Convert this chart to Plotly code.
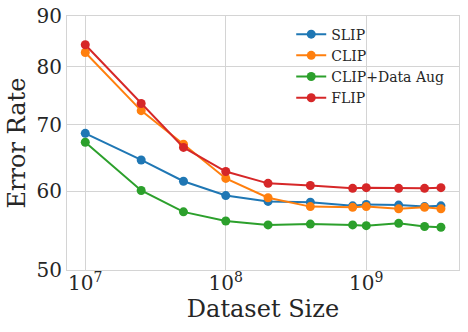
import plotly.graph_objects as go

# Dataset sizes (x) and error rates per method
dataset_size = [1e7, 2.5e7, 5e7, 1e8, 2e8, 4e8, 8e8, 1e9, 1.7e9, 2.6e9, 3.4e9]
slip = [68.6, 64.5, 61.4, 59.4, 58.6, 58.5, 58.0, 58.2, 58.1, 57.9, 58.0]
clip = [82.7, 72.3, 66.9, 61.8, 59.1, 57.9, 57.8, 57.9, 57.6, 57.8, 57.6]
clip_aug = [67.2, 60.1, 57.2, 56.0, 55.5, 55.6, 55.5, 55.4, 55.7, 55.3, 55.2]
flip = [84.2, 73.5, 66.4, 62.8, 61.1, 60.8, 60.4, 60.5, 60.4, 60.4, 60.5]

series_names = ["SLIP", "CLIP", "CLIP+Data Aug", "FLIP"]
series_values = [slip, clip, clip_aug, flip]
colors = ["#1f77b4", "#ff7f0e", "#2ca02c", "#d62728"]

y_ticks = [50, 60, 70, 80, 90]
x_ticks = [1e7, 1e8, 1e9]
x_tick_text = ["10<sup>7</sup>", "10<sup>8</sup>", "10<sup>9</sup>"]

FONT = "DejaVu Serif"
TEXT = "#262626"
GRID = "#d4d4d4"

fig = go.Figure()

for name, vals, color in zip(series_names, series_values, colors):
    fig.add_trace(go.Scatter(
        x=dataset_size,
        y=vals,
        mode="lines+markers",
        name=name,
        line=dict(width=2, color=color),
        marker=dict(size=9, color=color)
    ))

fig.update_layout(
    width=468,
    height=332,
    margin=dict(l=67, r=9, t=16, b=62),
    plot_bgcolor="white",
    paper_bgcolor="white",
    font=dict(family=FONT, color=TEXT, size=20),
    showlegend=True,
    legend=dict(
        x=0.572, y=0.99, xanchor="left", yanchor="top",
        bgcolor="rgba(0,0,0,0)",
        font=dict(size=14, family=FONT, color=TEXT),
        itemwidth=30,
        tracegroupgap=0,
    ),
)

fig.update_xaxes(
    type="log",
    range=[6.87, 9.66],
    tickvals=x_ticks,
    ticktext=x_tick_text,
    showgrid=True, gridcolor=GRID, gridwidth=1,
    showline=True, linecolor=GRID, linewidth=1, mirror=True,
    ticks="", zeroline=False, automargin=False,
    tickfont=dict(size=20),
    ticklabelstandoff=-5,
    title=dict(text="Dataset Size", font=dict(size=24), standoff=4),
)

fig.update_yaxes(
    type="log",
    range=[1.69897, 1.95424],
    tickvals=y_ticks,
    ticktext=[str(v) for v in y_ticks],
    showgrid=True, gridcolor=GRID, gridwidth=1,
    showline=True, linecolor=GRID, linewidth=1, mirror=True,
    ticks="", zeroline=False, automargin=False,
    tickfont=dict(size=20),
    title=dict(text="Error Rate", font=dict(size=24), standoff=4),
)

# drop the browser's default body margin so the figure sits at the page origin
fig.write_html(
    "out.html",
    config={"displayModeBar": False},
    post_script="document.body.style.margin='0';",
)
